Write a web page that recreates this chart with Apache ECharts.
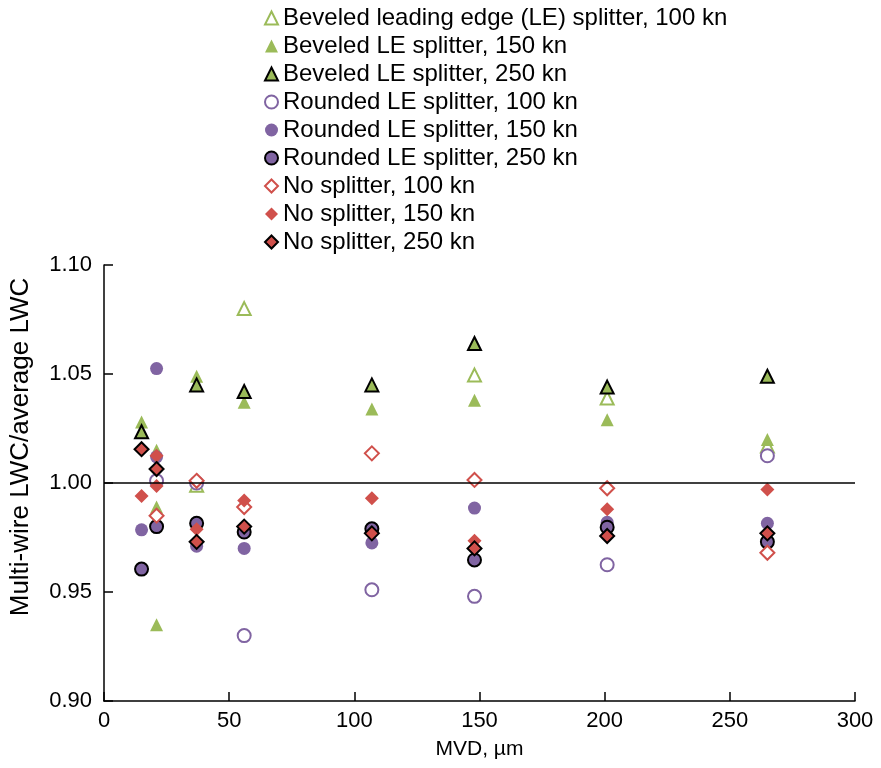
<!DOCTYPE html>
<html>
<head>
<meta charset="utf-8">
<script src="https://cdn.jsdelivr.net/npm/echarts@6/dist/echarts.min.js"></script>
<style>
html, body { margin: 0; padding: 0; background: #fff; }
#chart { width: 881px; height: 768px; }
</style>
</head>
<body>
<div id="chart"></div>
<script>
// values, [MVD µm, ratio]
var bev100 = [[37, 0.999], [56, 1.080], [148, 1.0495], [201, 1.039], [265, 1.017]];
var bev150 = [[15, 1.028], [21, 1.015], [21, 0.989], [21, 0.935], [37, 1.049], [56, 1.037], [107, 1.034], [148, 1.038], [201, 1.029], [265, 1.020]];
var bev250 = [[15, 1.0235], [37, 1.045], [56, 1.042], [107, 1.045], [148, 1.064], [201, 1.044], [265, 1.049]];
var round100 = [[21, 1.001], [37, 1.000], [56, 0.930], [107, 0.951], [148, 0.948], [201, 0.9625], [265, 1.0125]];
var round150 = [[15, 0.9785], [21, 1.0525], [21, 1.012], [37, 0.971], [56, 0.970], [107, 0.9725], [148, 0.9885], [201, 0.982], [265, 0.9815]];
var round250 = [[15, 0.9605], [21, 0.980], [37, 0.9815], [56, 0.9775], [107, 0.979], [148, 0.9647], [201, 0.9797], [265, 0.973]];
var no100 = [[21, 0.985], [37, 1.001], [56, 0.989], [107, 1.0136], [148, 1.0014], [201, 0.9976], [265, 0.968]];
var no150 = [[15, 0.994], [21, 1.0125], [21, 0.9986], [37, 0.9788], [56, 0.992], [107, 0.993], [148, 0.9735], [201, 0.988], [265, 0.997]];
var no250 = [[15, 1.0155], [21, 1.0064], [37, 0.973], [56, 0.980], [107, 0.9769], [148, 0.970], [201, 0.9757], [265, 0.9769]];

var names = [
    'Beveled leading edge (LE) splitter, 100 kn',
    'Beveled LE splitter, 150 kn',
    'Beveled LE splitter, 250 kn',
    'Rounded LE splitter, 100 kn',
    'Rounded LE splitter, 150 kn',
    'Rounded LE splitter, 250 kn',
    'No splitter, 100 kn',
    'No splitter, 150 kn',
    'No splitter, 250 kn'
];

var green = '#9BBB59', purple = '#8064A2', red = '#D0504B';
var font = 'Liberation Sans, Arial, sans-serif';

function mk(name, data, symbol, color, kind) {
    var style;
    if (kind == 'open') {
        style = { color: '#fff', borderColor: color, borderWidth: 2, opacity: 1 };
    } else if (kind == 'filled') {
        style = { color: color, borderWidth: 0, opacity: 1 };
    } else {
        style = { color: color, borderColor: '#000', borderWidth: 2, opacity: 1 };
    }
    return {
        name: name,
        type: 'scatter',
        symbol: symbol,
        symbolSize: symbol == 'diamond' ? 14 : 13,
        itemStyle: style,
        emphasis: { disabled: true },
        data: data
    };
}

var series = [
    mk(names[0], bev100, 'triangle', green, 'open'),
    mk(names[1], bev150, 'triangle', green, 'filled'),
    mk(names[2], bev250, 'triangle', green, 'black'),
    mk(names[3], round100, 'circle', purple, 'open'),
    mk(names[4], round150, 'circle', purple, 'filled'),
    mk(names[5], round250, 'circle', purple, 'black'),
    mk(names[6], no100, 'diamond', red, 'open'),
    mk(names[7], no150, 'diamond', red, 'filled'),
    mk(names[8], no250, 'diamond', red, 'black')
];

// reference line at 1.00
series[0].markLine = {
    silent: true,
    symbol: 'none',
    label: { show: false },
    lineStyle: { color: '#000', width: 1.5, type: 'solid' },
    data: [{ yAxis: 1.0 }]
};

var chart = echarts.init(document.getElementById('chart'));
chart.setOption({
    animation: false,
    textStyle: { fontFamily: font },
    legend: {
        orient: 'vertical',
        left: 259,
        top: 1,
        itemWidth: 13,
        itemHeight: 13,
        itemGap: 4,
        data: names,
        textStyle: { fontSize: 24, color: '#000', lineHeight: 20, fontFamily: font }
    },
    grid: { left: 103, right: 26, top: 265, bottom: 67, containLabel: false },
    xAxis: {
        type: 'value',
        min: 0,
        max: 300,
        interval: 50,
        name: 'MVD, µm',
        nameLocation: 'middle',
        nameGap: 38,
        nameTextStyle: { fontSize: 21, color: '#000', fontFamily: font },
        axisLine: { lineStyle: { color: '#000', width: 1.5 } },
        axisTick: { inside: true, length: 9, lineStyle: { color: '#000', width: 1.5 } },
        axisLabel: { fontSize: 22, color: '#000', margin: 9, fontFamily: font },
        splitLine: { show: false }
    },
    yAxis: {
        type: 'value',
        min: 0.9,
        max: 1.1,
        interval: 0.05,
        name: 'Multi-wire LWC/average LWC',
        nameLocation: 'middle',
        nameGap: 70,
        nameTextStyle: { fontSize: 26, color: '#000', fontFamily: font, padding: [0, 0, 0, 72] },
        axisLine: { show: true, lineStyle: { color: '#000', width: 1.5 } },
        axisTick: { show: true, inside: true, length: 9, lineStyle: { color: '#000', width: 1.5 } },
        axisLabel: {
            fontSize: 22, color: '#000', margin: 12, fontFamily: font,
            formatter: function(v) { return v.toFixed(2); }
        },
        splitLine: { show: false }
    },
    series: series
});
</script>
</body>
</html>
